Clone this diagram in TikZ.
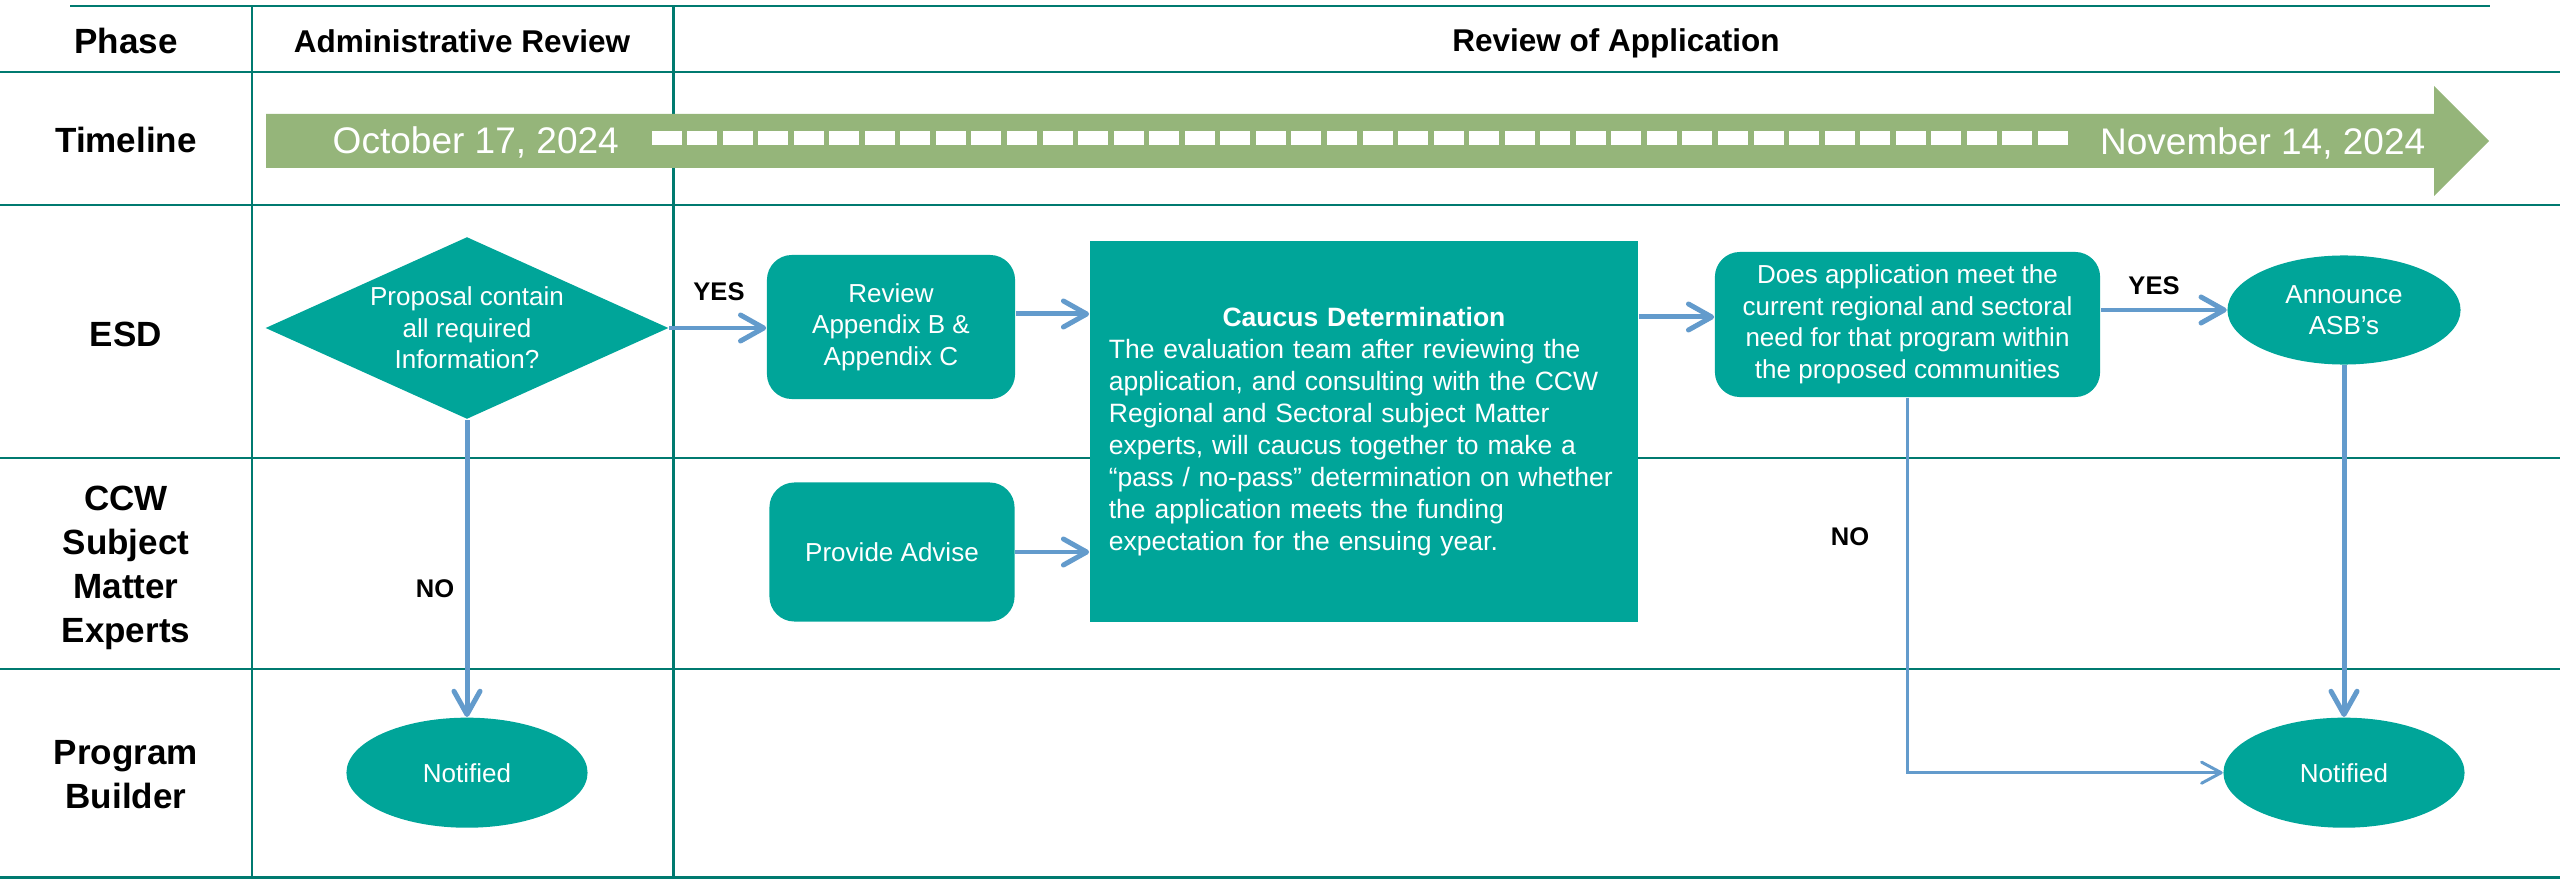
\documentclass[tikz,border=0pt]{standalone}
\usepackage{fontspec}
\setmainfont{Liberation Sans}
\usepackage{tikz}
\usetikzlibrary{shapes.geometric, arrows.meta, calc}
\usepackage{xcolor}

\definecolor{gridteal}{HTML}{007A70}
\definecolor{boxteal}{HTML}{00A599}
\definecolor{flowblue}{HTML}{639BCC}
\definecolor{timegreen}{HTML}{95B57A}

\tikzset{
    lane/.style={draw=gridteal, line width=0.85pt},
    lanelabel/.style={font=\fontsize{9.96}{12.5}\selectfont\bfseries, align=center, inner sep=0pt},
    colhead/.style={font=\fontsize{8.96}{10.8}\selectfont\bfseries, inner sep=0pt, anchor=base},
    answer/.style={font=\fontsize{7.26}{8.7}\selectfont\bfseries, inner sep=0pt},
    datetext/.style={font=\fontsize{10.53}{12.6}\selectfont, text=white, inner sep=0pt},
    stepbox/.style={fill=boxteal, text=white, rounded corners=0.25cm, align=center, inner sep=0pt,
        font=\fontsize{7.4}{8.96}\selectfont},
    decision/.style={diamond, fill=boxteal, text=white, align=center, inner sep=0pt, shape aspect=2.2,
        font=\fontsize{7.4}{8.96}\selectfont},
    terminal/.style={ellipse, fill=boxteal, text=white, align=center, inner sep=0pt,
        font=\fontsize{7.4}{8.96}\selectfont},
    flow/.style={draw=flowblue, line width=1.42pt, -{Straight Barb[length=6.6pt, width=7.4pt, round]}},
    thinflow/.style={draw=flowblue, line width=0.85pt, -{Straight Barb[length=5.6pt, width=6pt, round]}}
}

\begin{document}
\begin{tikzpicture}[x=0.01cm, y=-0.01cm] % one unit is one pixel of the sheet
        \useasboundingbox (0,0) rectangle (2560,879);

        % Swimlane grid
        \draw[lane] (70,6) -- (2490,6);
        \foreach \y in {72,205,458,669,877.5} {
            \draw[lane] (0,\y) -- (2560,\y);
        }
        \foreach \x in {252,673} {
            \draw[lane] (\x,6) -- (\x,879);
        }

        % Column and lane headers
        \node[colhead, font=\fontsize{9.96}{12.5}\selectfont\bfseries] (hdPhase) at (126,53.3) {Phase};
        \node[colhead] (hdAdmin) at (462,52.3) {Administrative Review};
        \node[colhead] (hdReview) at (1616,51.7) {Review of Application};
        \node[lanelabel, anchor=base] (lnTimeline) at (126,152.7) {Timeline};
        \node[lanelabel, anchor=base] (lnESD) at (126,346.4) {ESD};
        \node[lanelabel] (lnCCW) at (126,568) {CCW\\Subject\\Matter\\Experts};
        \node[lanelabel] (lnBuilder) at (126,775) {Program\\Builder};

        % Timeline arrow
        \fill[timegreen] (266,114) -- (2434,114) -- (2434,86) -- (2489,141)
            -- (2434,196) -- (2434,168) -- (266,168) -- cycle;
        \foreach \i in {0,...,39} {
            \fill[white] ({651.5+35.55*\i},131) rectangle ++(30,14);
        }
        \node[datetext, anchor=base west] (dateStart) at (332,154) {October 17, 2024};
        \node[datetext, anchor=base east] (dateEnd) at (2426,155) {November 14, 2024};

        % ESD and expert steps
        \node[decision, minimum width=4.03cm, minimum height=1.82cm] (check) at (467,328)
            {Proposal contain\\all required\\Information?};
        \node[stepbox, minimum width=2.48cm, minimum height=1.44cm] (review) at (891,327)
            {Review\\Appendix B \&\\Appendix C};
        \node[stepbox, minimum width=2.45cm, minimum height=1.39cm] (advise) at (892,552)
            {Provide Advise};
        \node[stepbox, rounded corners=0pt, text width=5.1cm, align=left, inner xsep=0.19cm,
            minimum height=3.81cm, font=\fontsize{7.54}{9.1}\selectfont] (caucus) at (1364,431.5)
            {{\centering\bfseries Caucus Determination\par}The evaluation team after reviewing the\\
            application, and consulting with the CCW\\
            Regional and Sectoral subject Matter\\
            experts, will caucus together to make a\\
            “pass / no-pass” determination on whether\\
            the application meets the funding\\
            expectation for the ensuing year.};
        \node[stepbox, minimum width=3.85cm, minimum height=1.45cm] (meetneed) at (1907.5,324.5)
            {Does application meet the\\current regional and sectoral\\need for that program within\\the proposed communities};
        \node[terminal, minimum width=2.33cm, minimum height=1.09cm] (announce) at (2344,310)
            {Announce\\ASB’s};

        % Program builder outcomes
        \node[terminal, minimum width=2.41cm, minimum height=1.10cm] (notifyA) at (467,772.7) {Notified};
        \node[terminal, minimum width=2.41cm, minimum height=1.10cm] (notifyB) at (2344,772.7) {Notified};

        % Connectors
        \coordinate (rvout) at ([yshift=0.13cm]review.east);
        \coordinate (needin) at ([yshift=0.075cm]meetneed.west);
        \draw[flow] (check.east) -- (check.east -| review.west);
        \draw[flow] (rvout) -- (rvout -| caucus.west);
        \draw[flow] (advise.east) -- (advise.east -| caucus.west);
        \draw[flow] (needin -| caucus.east) -- (needin);
        \draw[flow] (announce.west -| meetneed.east) -- (announce.west);
        \draw[flow] (check.south) -- (notifyA.north);
        \draw[flow] (announce.south) -- (notifyB.north);
        \draw[thinflow] (meetneed.south) -- (meetneed.south |- notifyB.west) -- (notifyB.west);

        % Answer labels
        \node[answer] (yesA) at (719,291.5) {YES};
        \node[answer] (noA) at (435,589) {NO};
        \node[answer] (yesB) at (2154,285.5) {YES};
        \node[answer] (noB) at (1850,537) {NO};

    \end{tikzpicture}
\end{document}
